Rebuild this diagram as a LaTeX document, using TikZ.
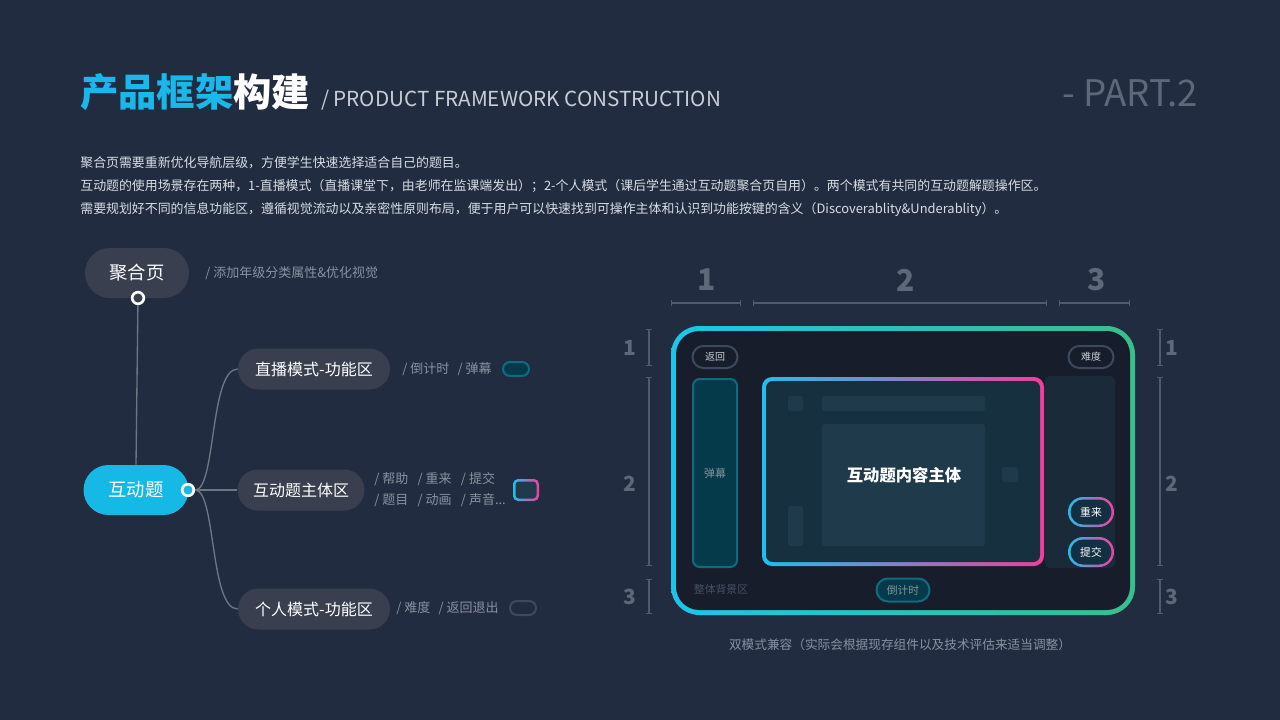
\documentclass[tikz,border=0pt]{standalone}
\usepackage{fontspec}
\setmainfont{Noto Sans CJK SC}
\usetikzlibrary{positioning, arrows.meta, shapes.misc, calc}

\definecolor{bgcol}{HTML}{222C41}
\definecolor{nodegray}{HTML}{393F4F}
\definecolor{hucyan}{HTML}{16B9E6}
\definecolor{titlecyan}{HTML}{1AB8EA}
\definecolor{linkgray}{HTML}{6E7583}
\definecolor{notegray}{HTML}{8A919E}
\definecolor{subgray}{HTML}{C9CDD4}
\definecolor{bodytext}{HTML}{D9DDE3}
\definecolor{dimnum}{HTML}{5E6879}
\definecolor{dimline}{HTML}{515B6D}
\definecolor{devbg}{HTML}{181D2B}
\definecolor{frcyan}{HTML}{1CC5EA}
\definecolor{frgreen}{HTML}{36C08C}
\definecolor{ctcyan}{HTML}{1FC0EC}
\definecolor{ctpink}{HTML}{F23E9C}
\definecolor{ctbg}{HTML}{16303F}
\definecolor{blockc}{HTML}{1F3A4B}
\definecolor{panelbg}{HTML}{1B2A39}
\definecolor{tealfill}{HTML}{053A4A}
\definecolor{tealedge}{HTML}{0E6B80}
\definecolor{pilledge}{HTML}{3B4B5E}
\definecolor{btnbg}{HTML}{132F42}
\definecolor{faint}{HTML}{465165}

\begin{document}
\begin{tikzpicture}[x=0.6pt, y=-0.6pt,
    txt/.style={inner sep=0pt},
    mind/.style={rectangle, rounded corners=12.3pt, fill=nodegray, text=white, minimum height=24.6pt,
                 font=\fontsize{9.6}{9.6}\selectfont},
    bigmind/.style={mind, rounded corners=15pt, minimum height=30pt, font=\fontsize{11}{11}\selectfont},
    note/.style={inner sep=0pt, anchor=west, text=notegray, font=\fontsize{7.8}{7.8}\selectfont},
    ringdot/.style={circle, draw=white, line width=1.6pt, minimum size=7pt, inner sep=0pt},
    link/.style={draw=linkgray, line width=0.8pt},
    dimmark/.style={draw=dimline, line width=0.7pt, {Bar[width=4pt]}-{Bar[width=4pt]}},
    dimtop/.style={text=dimnum, font=\fontsize{18}{18}\selectfont\bfseries},
    dimside/.style={text=dimnum, font=\fontsize{12.5}{12.5}\selectfont\bfseries},
    smallpill/.style={rounded rectangle, draw=pilledge, line width=1.2pt, minimum width=27pt,
                      minimum height=13.2pt, inner sep=0pt, text=subgray, font=\fontsize{6}{6}\selectfont},
    tealpill/.style={rounded rectangle, draw=tealedge, fill=tealfill, line width=1.2pt, inner sep=0pt,
                     text=notegray, font=\fontsize{6.5}{6.5}\selectfont},
    gradring/.style={rounded rectangle, left color=ctcyan, right color=ctpink, minimum width=27.6pt,
                     minimum height=18pt, inner sep=0pt},
    btn/.style={rounded rectangle, fill=btnbg, minimum width=24.6pt, minimum height=15pt,
                inner sep=0pt, text=white, font=\fontsize{6.5}{6.5}\selectfont}
]

% background
\fill[bgcol] (0,0) rectangle (1280,720);

% heading
\node[txt, anchor=base west, font=\fontsize{23}{23}\selectfont\bfseries] (title) at (80,106)
    {\textcolor{titlecyan}{产品框架}\textcolor{white}{构建}};
\node[txt, anchor=base west, text=subgray, font=\fontsize{12.4}{12.4}\selectfont] (subtitle)
    at ([xshift=6pt]title.base east) {/ PRODUCT FRAMEWORK CONSTRUCTION};
\node[txt, anchor=base east, text=dimnum, font=\fontsize{22}{22}\selectfont] (part) at (1198,106) {- PART.2};

\node[txt, anchor=north west, align=left, text=bodytext, font=\fontsize{7.75}{13.8}\selectfont] (intro) at (80,156)
    {聚合页需要重新优化导航层级，方便学生快速选择适合自己的题目。\\
     互动题的使用场景存在两种，1-直播模式（直播课堂下，由老师在监课端发出）；2-个人模式（课后学生通过互动题聚合页自用）。两个模式有共同的互动题解题操作区。\\
     需要规划好不同的信息功能区，遵循视觉流动以及亲密性原则布局，便于用户可以快速找到可操作主体和认识到功能按键的含义（Discoverablity\&Underablity）。};

% mind map
\node[bigmind, minimum width=62.4pt] (agg) at (137,273) {聚合页};
\node[bigmind, fill=hucyan, minimum width=63pt] (hu) at (136,490) {互动题};
\node[mind, minimum width=91.2pt] (live) at (314,369) {直播模式-功能区};
\node[mind, minimum width=76.2pt] (core) at (301,490) {互动题主体区};
\node[mind, minimum width=91.2pt] (solo) at (314,609) {个人模式-功能区};

\node[ringdot, fill=nodegray] (aggdot) at (138,298) {};
\node[ringdot, fill=hucyan] (hudot) at (188,490) {};

\draw[link] (aggdot) -- (hu.north);
\draw[link] (hudot) .. controls +(28,0) and +(-28,0) .. (live.west);
\draw[link] (hudot) -- (core.west);
\draw[link] (hudot) .. controls +(28,0) and +(-28,0) .. (solo.west);

\node[note] (aggnote) at (205,273) {/ 添加年级分类属性\&优化视觉};
\node[note] (livenote) at (402,369) {/ 倒计时\hspace{5pt}/ 弹幕};
\node[note, align=left, font=\fontsize{7.8}{12.6}\selectfont] (corenote) at (374,490)
    {\makebox[26pt][l]{/ 帮助}\makebox[26pt][l]{/ 重来}/ 提交\\
     \makebox[26pt][l]{/ 题目}\makebox[26pt][l]{/ 动画}/ 声音...};
\node[note] (solonote) at (396,608) {/ 难度\hspace{5pt}/ 返回退出};

\node[tealpill, minimum width=15.6pt, minimum height=8.4pt] (liveicon) at (516,369) {};
\node[rectangle, rounded corners=3pt, left color=ctcyan, right color=ctpink,
      minimum width=15.6pt, minimum height=13.2pt, inner sep=0pt] (coreicon) at (526,490) {};
\node[rectangle, rounded corners=2pt, fill=blockc, minimum width=12.6pt, minimum height=10.2pt,
      inner sep=0pt] (coreiconin) at (coreicon) {};
\node[rounded rectangle, draw=pilledge, line width=1.2pt, minimum width=15.6pt, minimum height=8.4pt,
      inner sep=0pt] (soloicon) at (523,608) {};

% dimension marks
\draw[dimmark] (671,303) -- (741,303);
\draw[dimmark] (753,303) -- (1047,303);
\draw[dimmark] (1059,303) -- (1130,303);
\node[dimtop] (top1) at (707,280) {1};
\node[dimtop] (top2) at (906,280) {2};
\node[dimtop] (top3) at (1097,280) {3};

\foreach \x/\lx/\side in {649/630/l, 1160/1172/r} {
  \draw[dimmark] (\x,329) -- (\x,366);
  \draw[dimmark] (\x,377) -- (\x,566);
  \draw[dimmark] (\x,579) -- (\x,614);
  \node[dimside] (\side1) at (\lx,348) {1};
  \node[dimside] (\side2) at (\lx,484) {2};
  \node[dimside] (\side3) at (\lx,597) {3};
}

% device frame
\shade[left color=frcyan, right color=frgreen, rounded corners=17pt] (671,326) rectangle (1135,615);
\fill[devbg, rounded corners=14pt] (676,331) rectangle (1130,610);

\fill[panelbg, rounded corners=3pt] (1045,376) rectangle (1115,568);
\shade[left color=ctcyan, right color=ctpink, rounded corners=6pt] (762,377) rectangle (1044,566);
\fill[ctbg, rounded corners=4pt] (766,381) rectangle (1040,562);

% content blocks
\fill[blockc, rounded corners=1.5pt] (788,396) rectangle (803,411);
\fill[blockc, rounded corners=1.5pt] (822,396) rectangle (985,411);
\fill[blockc, rounded corners=1.5pt] (822,424) rectangle (985,546);
\fill[blockc, rounded corners=1.5pt] (788,506) rectangle (803,546);
\fill[blockc, rounded corners=1.5pt] (1002,467) rectangle (1018,482);
\node[txt, text=white, font=\fontsize{9.8}{9.8}\selectfont\bfseries] (content) at (904,475) {互动题内容主体};

\node[rectangle, rounded corners=4pt, draw=tealedge, fill=tealfill, line width=1.2pt,
      minimum width=26.4pt, minimum height=112.8pt, inner sep=0pt, text=notegray,
      font=\fontsize{6.5}{6.5}\selectfont] (danmu) at (715,473) {弹幕};
\node[smallpill] (back) at (715,357) {返回};
\node[smallpill] (level) at (1091,357) {难度};
\node[tealpill, minimum width=31.8pt, minimum height=13.8pt] (timer) at (903,590) {倒计时};

\node[gradring] (redoring) at (1091,512) {};
\node[btn] (redo) at (redoring) {重来};
\node[gradring] (submitring) at (1091,552) {};
\node[btn] (submit) at (submitring) {提交};

\node[txt, text=faint, font=\fontsize{6.5}{6.5}\selectfont] (bgarea) at (721,589) {整体背景区};
\node[txt, text=notegray, font=\fontsize{7.6}{7.6}\selectfont] (caption) at (900,645)
    {双模式兼容（实际会根据现存组件以及技术评估来适当调整）};

\end{tikzpicture}
\end{document}
